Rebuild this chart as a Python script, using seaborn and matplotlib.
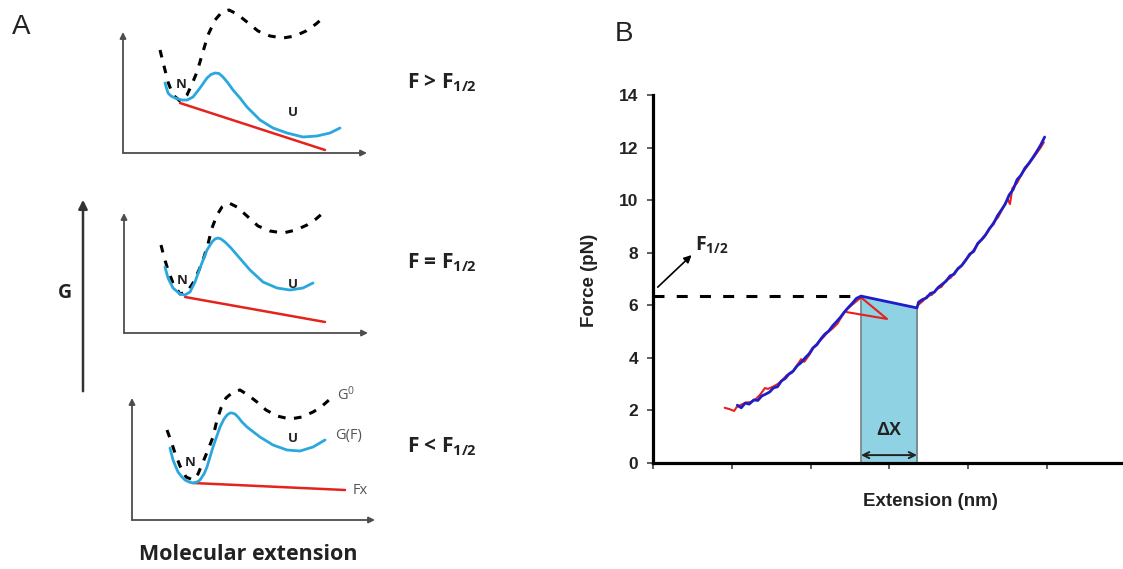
import matplotlib
matplotlib.use("Agg")
import matplotlib.pyplot as plt
import seaborn as sns
from matplotlib.patches import FancyArrowPatch

# ---------------- Panel A: free-energy landscapes (arbitrary units) ----------------
# F > F1/2
hi_g0_x = [37, 41, 45, 50, 57, 64, 69, 74, 79, 85, 92, 99, 106, 114, 124, 135, 147, 160, 172, 183, 193, 201]
hi_g0_y = [103, 87, 71, 58, 52, 58, 69, 81, 98, 118, 133, 141, 143, 139, 131, 122, 117, 115, 117, 122, 129, 136]
hi_gf_x = [42, 45, 48, 52, 59, 64, 70, 77, 84, 88, 92, 96, 100, 105, 110, 117, 124, 137, 150, 164, 180, 194, 207, 217]
hi_gf_y = [70, 60, 57, 55, 53, 53, 56, 65, 75, 78.5, 80, 79.5, 76, 70, 63, 55, 46, 33, 25, 20, 16, 17, 20, 25]
hi_fx_x = [57, 202]
hi_fx_y = [50, 3]

# F = F1/2
eq_g0_x = [37, 40, 44, 49, 56, 63, 69, 75, 80, 84, 88, 93, 98, 105, 113, 123, 134, 146, 159, 172, 183, 192, 200]
eq_g0_y = [88, 76, 63, 50, 39, 41, 50, 63, 76, 89, 105, 118, 126, 130, 126, 117, 107, 102, 100, 103, 108, 114, 121]
eq_gf_x = [41, 44, 49, 56, 61, 66, 71, 76, 83, 88, 91, 94, 97, 101, 107, 113, 126, 139, 153, 166, 179, 189]
eq_gf_y = [66, 55, 45, 39, 38, 41, 51, 65, 83, 91, 94, 95, 94, 91, 85, 78, 63, 51, 45, 43, 45, 50]
eq_fx_x = [61, 201]
eq_fx_y = [36, 11]

# F < F1/2
lo_g0_x = [35, 39, 43, 48, 54, 61, 66, 71, 76, 81, 85, 89, 94, 101, 108, 116, 125, 134, 145, 158, 170, 181, 189, 197]
lo_g0_y = [90, 79, 67, 54, 43, 40, 46, 58, 70, 83, 100, 112, 122, 128, 130, 125, 118, 110, 104, 101, 103, 108, 113, 120]
lo_gf_x = [38, 41, 46, 50, 53, 57, 61, 65, 68, 72, 75, 81, 88, 92, 95, 98, 100, 103, 106, 110, 115, 128, 141, 155, 168, 181, 193]
lo_gf_y = [72, 60, 48, 43, 40, 38, 37, 38, 40, 46, 53, 73, 93, 101, 105, 107, 107, 106, 103, 98, 93, 83, 75, 70, 69, 73, 80]
lo_fx_x = [61, 213]
lo_fx_y = [37, 30]

conditions = ["F > F$_{\\mathbf{1/2}}$", "F = F$_{\\mathbf{1/2}}$", "F < F$_{\\mathbf{1/2}}$"]

# ---------------- Panel B: force-extension trace ----------------
stretch_lo_x = [1.07, 1.12, 1.17, 1.22, 1.28, 1.33, 1.38, 1.43, 1.48, 1.53, 1.58, 1.63, 1.68, 1.73, 1.78,
                1.83, 1.88, 1.93, 1.98, 2.03, 2.08, 2.13, 2.18, 2.23, 2.28, 2.33, 2.38, 2.43, 2.48, 2.53, 2.58]
stretch_lo_f = [2.20, 2.10, 2.28, 2.24, 2.40, 2.38, 2.55, 2.62, 2.70, 2.86, 2.90, 3.12, 3.22, 3.40, 3.50,
                3.70, 3.82, 4.00, 4.15, 4.38, 4.50, 4.72, 4.90, 5.02, 5.22, 5.38, 5.55, 5.75, 5.92, 6.08, 6.26]
rip_x = [2.64, 3.35]          # unfolding jump: start and end extension
rip_f = [6.35, 5.90]          # force at F1/2 and after the jump
stretch_hi_x = [3.37, 3.42, 3.47, 3.52, 3.57, 3.62, 3.67, 3.72, 3.77, 3.82, 3.87, 3.92, 3.97, 4.02, 4.07,
                4.12, 4.17, 4.22, 4.27, 4.32, 4.37, 4.42, 4.47, 4.52, 4.57, 4.62, 4.67, 4.72, 4.77, 4.82,
                4.87, 4.92, 4.97]
stretch_hi_f = [6.12, 6.22, 6.28, 6.45, 6.50, 6.68, 6.80, 6.92, 7.12, 7.18, 7.40, 7.52, 7.72, 7.95, 8.05,
                8.35, 8.50, 8.68, 8.92, 9.10, 9.40, 9.62, 9.85, 10.20, 10.40, 10.78, 10.95, 11.22, 11.40, 11.62,
                11.85, 12.10, 12.40]

relax_lo_x = [0.91, 0.97, 1.03, 1.06, 1.12, 1.18, 1.24, 1.30, 1.36, 1.42, 1.46, 1.52, 1.58, 1.64, 1.70,
              1.76, 1.82, 1.88, 1.92, 1.98, 2.04, 2.10, 2.16, 2.22, 2.28, 2.34, 2.40, 2.46, 2.52, 2.58,
              2.62, 2.64, 2.97, 2.46]
relax_lo_f = [2.10, 2.05, 1.98, 2.12, 2.22, 2.30, 2.32, 2.42, 2.60, 2.85, 2.82, 2.90, 3.00, 3.15, 3.35,
              3.42, 3.68, 3.95, 3.85, 4.10, 4.40, 4.60, 4.78, 4.98, 5.12, 5.30, 5.60, 5.85, 6.00, 6.15,
              6.25, 6.30, 5.48, 5.74]
relax_hi_x = [3.36, 3.42, 3.48, 3.54, 3.60, 3.66, 3.72, 3.78, 3.84, 3.90, 3.96, 4.02, 4.08, 4.14, 4.20,
              4.26, 4.32, 4.38, 4.44, 4.50, 4.53, 4.56, 4.62, 4.68, 4.74, 4.80, 4.86, 4.92, 4.96]
relax_hi_f = [6.00, 6.15, 6.35, 6.40, 6.62, 6.70, 6.95, 7.05, 7.30, 7.45, 7.70, 7.90, 8.15, 8.40, 8.58,
              8.85, 9.15, 9.35, 9.70, 10.05, 9.85, 10.45, 10.65, 11.00, 11.25, 11.50, 11.75, 12.00, 12.20]

force_ticks = [0, 2, 4, 6, 8, 10, 12, 14]
ext_ticks = [0, 1, 2, 3, 4, 5]

# ---------------- styling ----------------
sns.set_theme(style="white")
plt.rcParams["font.family"] = ["Open Sans", "DejaVu Sans"]
plt.rcParams["mathtext.fontset"] = "custom"
plt.rcParams["mathtext.rm"] = "Open Sans"
plt.rcParams["mathtext.bf"] = "Open Sans:bold"
plt.rcParams["mathtext.it"] = "Open Sans:italic"

W, H = 1123, 569
fig = plt.figure(figsize=(W / 100, H / 100), dpi=100)
fig.patch.set_facecolor("white")


def rect(x0, y0, x1, y1):
    """Axes rectangle from pixel corners (left, bottom) -> (right, top)."""
    return [x0 / W, 1 - y0 / H, (x1 - x0) / W, (y0 - y1) / H]


def fx(px):
    return px / W


def fy(py):
    return 1 - py / H


def line(ax, x, y, **kw):
    sns.lineplot(x=x, y=y, sort=False, estimator=None, ax=ax, legend=False, **kw)


BLUE_A = "#2aa8de"
RED_A = "#e3231c"
AXIS_GREY = "#4d4d4d"
TEXT = "#222222"

panels = [
    (rect(123, 153, 367, 32), (hi_g0_x, hi_g0_y), (hi_gf_x, hi_gf_y), (hi_fx_x, hi_fx_y), (58, 68), (170, 40)),
    (rect(124, 333, 368, 213), (eq_g0_x, eq_g0_y), (eq_gf_x, eq_gf_y), (eq_fx_x, eq_fx_y), (58, 53), (169, 49)),
    (rect(132, 520, 375, 398), (lo_g0_x, lo_g0_y), (lo_gf_x, lo_gf_y), (lo_fx_x, lo_fx_y), (58, 58), (161, 82)),
]
small_axes = []
for r, g0, gf, fxl, npos, upos in panels:
    ax = fig.add_axes(r)
    xmax = r[2] * W
    ymax = r[3] * H
    ax.set_xlim(0, xmax)
    ax.set_ylim(0, ymax)
    ax.axis("off")
    for tip in [(xmax, 0), (0, ymax)]:
        ax.annotate("", xy=tip, xytext=(0, 0), annotation_clip=False,
                    arrowprops=dict(arrowstyle="-|>", color=AXIS_GREY, lw=1.3,
                                    mutation_scale=9, shrinkA=0, shrinkB=0))
    line(ax, g0[0], g0[1], color="black", linewidth=2.2, linestyle=(0, (2.5, 2.8)), clip_on=False)
    line(ax, fxl[0], fxl[1], color=RED_A, linewidth=1.8, clip_on=False)
    line(ax, gf[0], gf[1], color=BLUE_A, linewidth=2.0, clip_on=False)
    ax.text(*npos, "N", fontsize=9.5, fontweight="bold", color=TEXT, ha="center", va="center")
    ax.text(*upos, "U", fontsize=9.5, fontweight="bold", color=TEXT, ha="center", va="center")
    small_axes.append(ax)

# curve names on the lowest landscape
small_axes[2].text(205, 125, "G$^{\\mathrm{0}}$", fontsize=10.5, color="#555555", ha="left", va="center")
small_axes[2].text(203, 85, "G(F)", fontsize=10.5, color="#555555", ha="left", va="center")
small_axes[2].text(221, 30, "Fx", fontsize=10.5, color="#555555", ha="left", va="center")

for label, base in zip(conditions, [88, 268, 452]):
    fig.text(fx(407), fy(base), label, fontsize=15, fontweight="bold", color=TEXT,
             ha="left", va="baseline")

fig.text(fx(248), fy(555), "Molecular extension", fontsize=15.5, fontweight="bold",
         color=TEXT, ha="center", va="center")
fig.text(fx(65), fy(293), "G", fontsize=14, fontweight="bold", color=TEXT, ha="center", va="center")
fig.add_artist(FancyArrowPatch((fx(83), fy(394)), (fx(83), fy(197)), transform=fig.transFigure,
                               arrowstyle="-|>", mutation_scale=13, lw=1.8, color="#333333"))
fig.text(fx(21), fy(27), "A", fontsize=20, family="Liberation Sans", color=TEXT,
         ha="center", va="center")

# ---------------- Panel B ----------------
axb = fig.add_axes(rect(653, 463, 1123, 95))
axb.set_xlim(0, (1123 - 653) / 78.8)
axb.set_ylim(0, 14)
for side in ["top", "right"]:
    axb.spines[side].set_visible(False)
for side in ["left", "bottom"]:
    axb.spines[side].set_linewidth(2.3)
    axb.spines[side].set_color("black")
axb.set_yticks(force_ticks)
axb.set_xticks(ext_ticks)
axb.set_xticklabels([])
axb.tick_params(axis="both", which="major", direction="out", length=4.5, width=1.1,
                color="#333333", pad=6, bottom=True, left=True)
axb.tick_params(axis="y", labelsize=12.5)
for t in axb.get_yticklabels():
    t.set_fontfamily("Liberation Sans")
    t.set_fontweight("bold")
    t.set_color(TEXT)
axb.grid(False)

# extension jump at F1/2
axb.fill_between(rip_x, 0, rip_f, color="#8fd2e4", linewidth=0, zorder=1)
axb.vlines(rip_x, 0, rip_f, color="#6f7f84", linewidth=1.2, zorder=2)
line(axb, [0, rip_x[0]], [rip_f[0], rip_f[0]], color="black", linewidth=2.2,
     linestyle=(0, (3.6, 4.0)), zorder=3, clip_on=False)

line(axb, relax_lo_x, relax_lo_f, color="#e4211c", linewidth=1.5, zorder=4)
line(axb, relax_hi_x, relax_hi_f, color="#e4211c", linewidth=1.5, zorder=4)
line(axb, stretch_lo_x + rip_x + stretch_hi_x, stretch_lo_f + rip_f + stretch_hi_f,
     color="#1d1dc9", linewidth=2.0, zorder=5)

axb.annotate("", xy=(0.49, 7.91), xytext=(0.06, 6.69),
             arrowprops=dict(arrowstyle="-|>", color="black", lw=1.2, mutation_scale=11,
                             shrinkA=0, shrinkB=0))
axb.text(0.53, 8.1, "F$_{\\mathbf{1/2}}$", fontsize=14, fontweight="bold", color=TEXT,
         ha="left", va="baseline")
axb.annotate("", xy=(rip_x[1], 0.3), xytext=(rip_x[0], 0.3),
             arrowprops=dict(arrowstyle="<->", color=TEXT, lw=1.4, mutation_scale=11,
                             shrinkA=0, shrinkB=0))
axb.text(sum(rip_x) / 2, 1.22, "ΔX", fontsize=13, fontweight="bold", family="Liberation Sans",
         color=TEXT, ha="center", va="center")

fig.text(fx(590), fy(280), "Force (pN)", rotation=90, fontsize=13.5, fontweight="bold",
         family="Liberation Sans", color=TEXT, ha="center", va="center")
fig.text(fx(930), fy(502), "Extension (nm)", fontsize=13.5, fontweight="bold",
         family="Liberation Sans", color=TEXT, ha="center", va="center")
fig.text(fx(624), fy(34), "B", fontsize=20, family="Liberation Sans", color=TEXT,
         ha="center", va="center")

fig.savefig("out.png", dpi=100, facecolor="white")
